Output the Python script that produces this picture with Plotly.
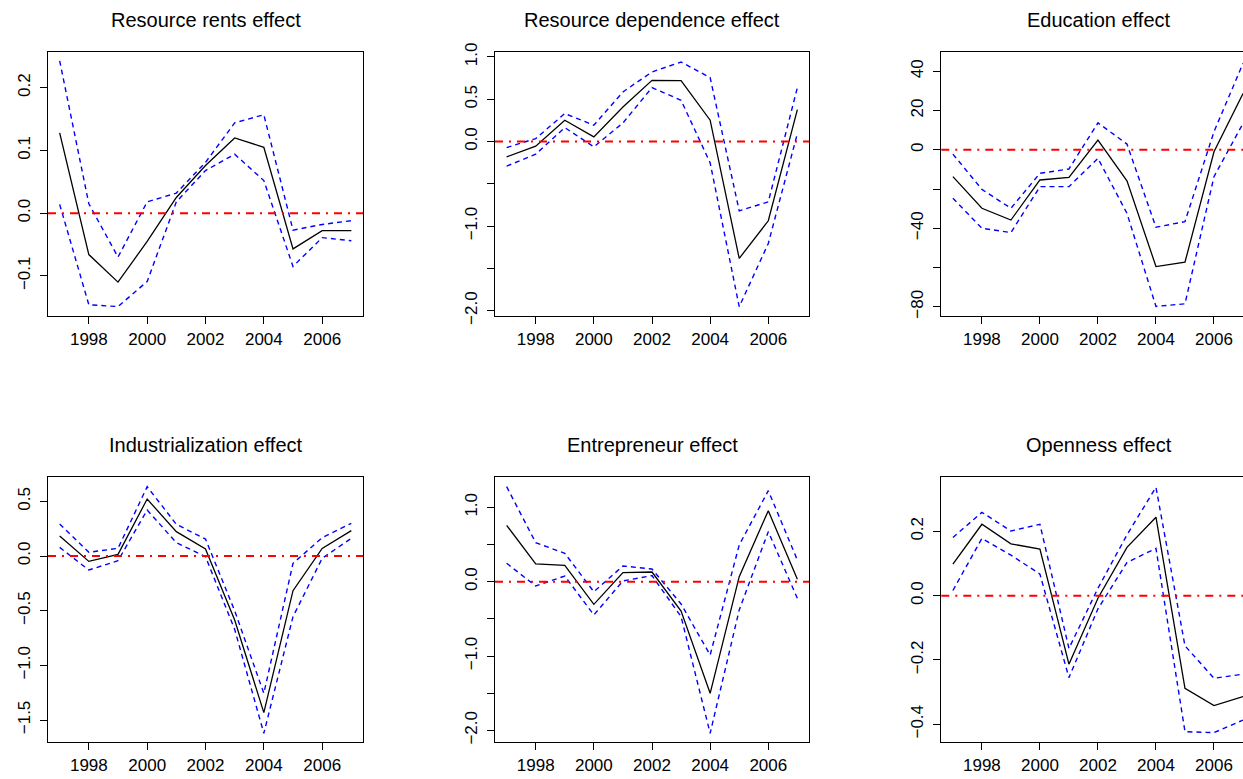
import plotly.graph_objects as go

# ---------------- data ----------------
years = [1997, 1998, 1999, 2000, 2001, 2002, 2003, 2004, 2005, 2006, 2007]

titles = ["Resource rents effect", "Resource dependence effect", "Education effect",
          "Industrialization effect", "Entrepreneur effect", "Openness effect"]

rents_est = [0.128, -0.066, -0.110, -0.045, 0.025, 0.076, 0.120, 0.105, -0.057, -0.028, -0.028]
rents_up = [0.243, 0.015, -0.070, 0.018, 0.032, 0.081, 0.144, 0.157, -0.027, -0.018, -0.012]
rents_lo = [0.014, -0.146, -0.149, -0.109, 0.018, 0.068, 0.094, 0.052, -0.085, -0.039, -0.044]

dep_est = [-0.181, -0.055, 0.252, 0.055, 0.409, 0.724, 0.720, 0.252, -1.382, -0.937, 0.378]
dep_up = [-0.071, 0.035, 0.331, 0.193, 0.587, 0.823, 0.941, 0.756, -0.819, -0.713, 0.638]
dep_lo = [-0.291, -0.150, 0.165, -0.063, 0.220, 0.638, 0.488, -0.252, -1.953, -1.205, 0.094]

edu_est = [-13.7, -29.8, -35.8, -15.4, -14.1, 4.9, -15.8, -59.5, -57.3, -1.0, 28.6]
edu_up = [-2.2, -20.2, -29.8, -12.0, -9.8, 13.7, 2.9, -39.5, -36.6, 9.2, 44.0]
edu_lo = [-24.7, -40.0, -42.2, -18.8, -18.8, -4.4, -32.4, -79.8, -78.5, -13.7, 13.4]

ind_est = [0.183, -0.049, 0.015, 0.521, 0.223, 0.064, -0.585, -1.433, -0.317, 0.070, 0.232]
ind_up = [0.293, 0.034, 0.070, 0.634, 0.290, 0.155, -0.500, -1.256, -0.067, 0.168, 0.299]
ind_lo = [0.079, -0.128, -0.043, 0.421, 0.122, -0.006, -0.671, -1.622, -0.555, -0.021, 0.162]

ent_est = [0.758, 0.238, 0.220, -0.305, 0.121, 0.130, -0.395, -1.502, 0.067, 0.955, 0.031]
ent_up = [1.278, 0.525, 0.381, -0.135, 0.211, 0.170, -0.300, -0.987, 0.493, 1.224, 0.291]
ent_lo = [0.247, -0.058, 0.076, -0.448, 0.010, 0.081, -0.471, -2.040, -0.381, 0.673, -0.224]

open_est = [0.098, 0.222, 0.161, 0.145, -0.213, -0.008, 0.150, 0.244, -0.288, -0.342, -0.314]
open_up = [0.181, 0.259, 0.201, 0.222, -0.164, 0.023, 0.189, 0.337, -0.156, -0.257, -0.244]
open_lo = [0.016, 0.178, 0.126, 0.067, -0.255, -0.041, 0.103, 0.147, -0.423, -0.426, -0.387]

x_ticks = [1998, 2000, 2002, 2004, 2006]

y_ticks = [
    [0.2, 0.1, 0.0, -0.1],
    [1.0, 0.5, 0.0, -0.5, -1.0, -1.5, -2.0],
    [40, 20, 0, -20, -40, -60, -80],
    [0.5, 0.0, -0.5, -1.0, -1.5],
    [1.0, 0.5, 0.0, -0.5, -1.0, -1.5, -2.0],
    [0.2, 0.0, -0.2, -0.4],
]
y_labels = [
    ["0.2", "0.1", "0.0", "\u22120.1"],
    ["1.0", "0.5", "0.0", "", "\u22121.0", "", "\u22122.0"],
    ["40", "20", "0", "", "\u221240", "", "\u221280"],
    ["0.5", "0.0", "\u22120.5", "\u22121.0", "\u22121.5"],
    ["1.0", "", "0.0", "", "\u22121.0", "", "\u22122.0"],
    ["0.2", "0.0", "\u22120.2", "\u22120.4"],
]

panels = [
    (rents_est, rents_up, rents_lo),
    (dep_est, dep_up, dep_lo),
    (edu_est, edu_up, edu_lo),
    (ind_est, ind_up, ind_lo),
    (ent_est, ent_up, ent_lo),
    (open_est, open_up, open_lo),
]

# ---------------- layout geometry ----------------
W, H = 1243, 779
col_px = [(48, 363), (495, 809), (941.3, 1243)]
row_px = [(52, 316), (477.3, 742.3)]
x_ranges = [[1996.6, 2007.4], [1996.6, 2007.4], [1996.6, 2007.0]]
y_ranges = [[-0.164, 0.257], [-2.063, 1.059], [-84.7, 49.8],
            [-1.704, 0.72], [-2.161, 1.404], [-0.456, 0.368]]
title_cx = [205.5, 652, 1098.6]

FONT = "Liberation Sans, Arial, Helvetica, sans-serif"

fig = go.Figure()
layout = dict(
    width=W, height=H,
    margin=dict(l=0, r=0, t=0, b=0, autoexpand=False),
    paper_bgcolor="white", plot_bgcolor="white",
    showlegend=False,
    font=dict(family=FONT, size=17, color="black"),
    shapes=[], annotations=[],
)

for i, (est, up, lo) in enumerate(panels):
    r, c = divmod(i, 3)
    n = i + 1
    xa = "x" if n == 1 else f"x{n}"
    ya = "y" if n == 1 else f"y{n}"
    fig.add_trace(go.Scatter(x=years, y=up, mode="lines", xaxis=xa, yaxis=ya,
                             line=dict(color="#0000FF", width=1.4, dash="5px,4px")))
    fig.add_trace(go.Scatter(x=years, y=lo, mode="lines", xaxis=xa, yaxis=ya,
                             line=dict(color="#0000FF", width=1.4, dash="5px,4px")))
    fig.add_trace(go.Scatter(x=years, y=est, mode="lines", xaxis=xa, yaxis=ya,
                             line=dict(color="black", width=1.3)))

    x0, x1 = col_px[c]
    y0, y1 = row_px[r]
    last_col = (c == 2)
    layout["xaxis" if n == 1 else f"xaxis{n}"] = dict(
        domain=[x0 / W, x1 / W], range=x_ranges[c], anchor=ya,
        automargin=False,
        showgrid=False, zeroline=False,
        showline=True, mirror=True, linecolor="black", linewidth=1.2,
        tickmode="array", tickvals=x_ticks, ticktext=[str(t) for t in x_ticks],
        ticks="outside", ticklen=7, tickwidth=1.2, tickcolor="black",
        tickfont=dict(family=FONT, size=17, color="black"),
    )
    layout["yaxis" if n == 1 else f"yaxis{n}"] = dict(
        domain=[1 - y1 / H, 1 - y0 / H], range=y_ranges[i], anchor=xa,
        automargin=False,
        showgrid=False, zeroline=False,
        showline=True, mirror=(not last_col), linecolor="black", linewidth=1.2,
        tickmode="array", tickvals=y_ticks[i], ticktext=y_labels[i],
        ticks="outside", ticklen=7, tickwidth=1.2, tickcolor="black",
        tickangle=-90, ticklabelstandoff=3,
        tickfont=dict(family=FONT, size=17, color="black"),
    )
    layout["shapes"].append(dict(
        type="line", xref=f"{xa} domain", yref=ya, x0=0, x1=1, y0=0, y1=0,
        line=dict(color="#FF0000", width=2, dash="8px,6px,2px,6px"),
        layer="above",
    ))
    ty = 19.5 if r == 0 else 445
    layout["annotations"].append(dict(
        text=titles[i], xref="paper", yref="paper",
        x=title_cx[c] / W, y=1 - ty / H, xanchor="center", yanchor="middle",
        showarrow=False, font=dict(family=FONT, size=20, color="black"),
    ))

fig.update_layout(**layout)
fig.write_html(
    "out.html",
    config={"displayModeBar": False},
    post_script="document.body.style.margin='0px';document.body.style.overflow='hidden';",
)
